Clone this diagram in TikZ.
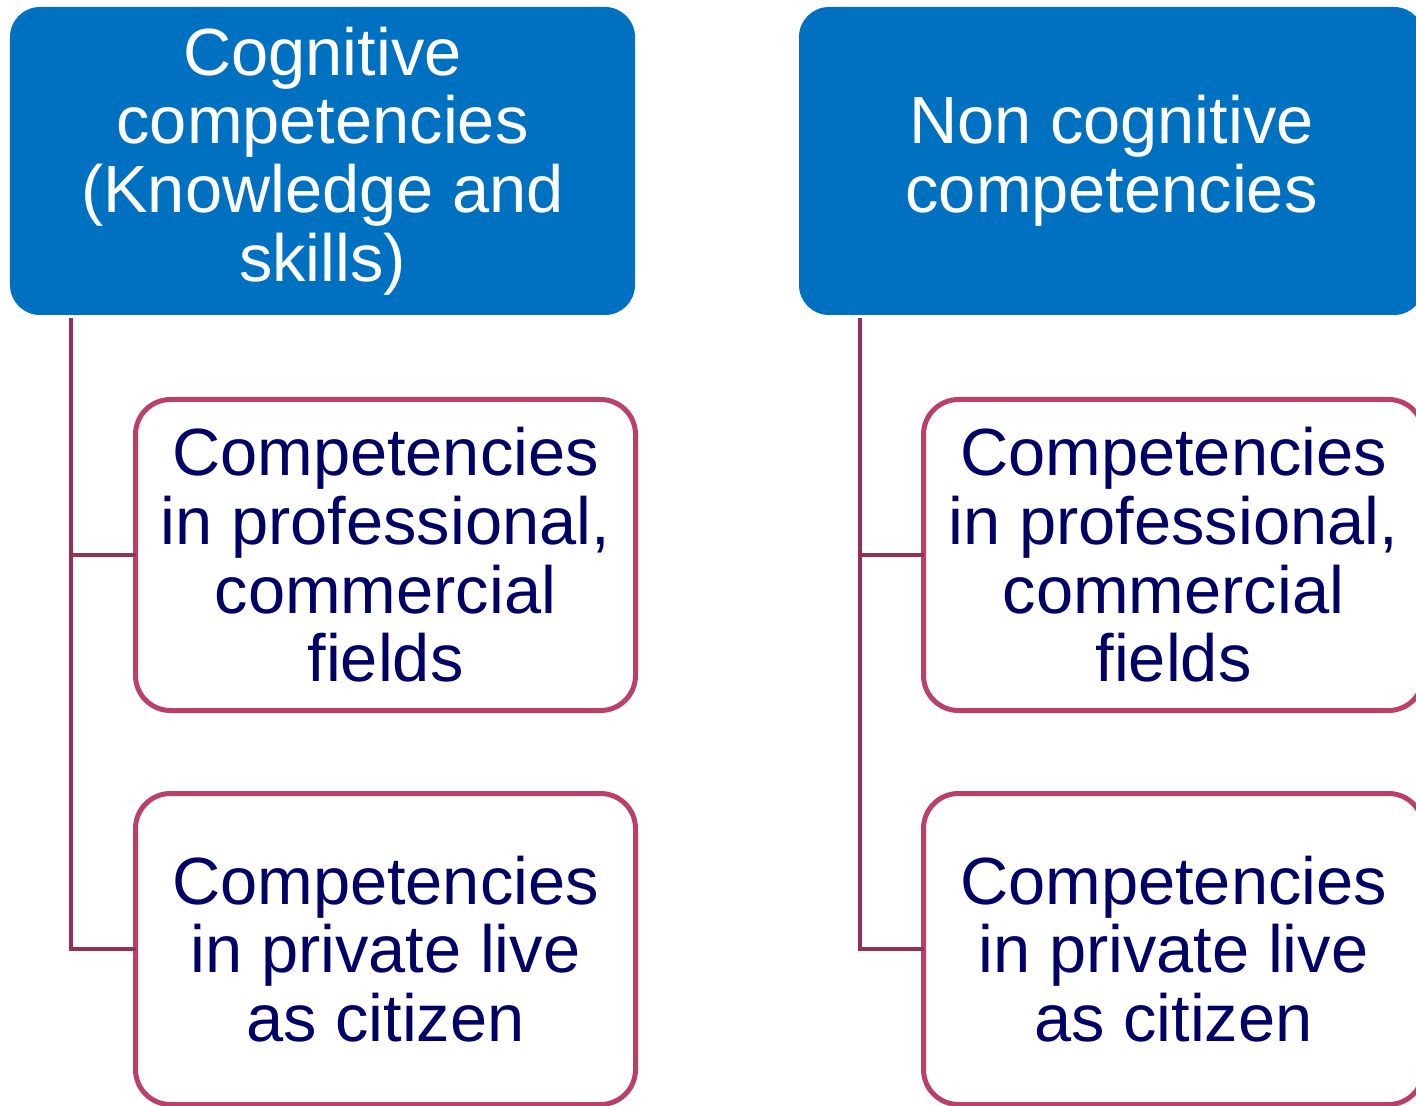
\documentclass[tikz,border=0pt]{standalone}
\usepackage{fontspec}
\setmainfont{Liberation Sans}
\usepackage{tikz}

\definecolor{headblue}{RGB}{0,112,192}
\definecolor{boxpink}{RGB}{186,64,104}
\definecolor{linkred}{RGB}{150,47,87}
\definecolor{textnavy}{RGB}{0,0,102}

\tikzset{
  head/.style={fill=headblue,rounded corners=0.6cm,minimum width=12.5cm,minimum height=6.16cm,
    outer sep=0pt,inner sep=0pt,align=center,text=white,font=\fontsize{38}{39.1}\selectfont},
  leaf/.style={draw=boxpink,fill=white,line width=0.1cm,rounded corners=0.7cm,minimum width=10cm,minimum height=6.22cm,
    outer sep=0pt,inner sep=0pt,align=center,text=textnavy,font=\fontsize{38}{39.1}\selectfont},
  link/.style={draw=linkred,line width=0.08cm}
}

\begin{document}
\begin{tikzpicture}
\useasboundingbox (0,0) rectangle (28.32,22.1);

\node[head] (cog) at (6.45,18.88) {Cognitive\\competencies\\(Knowledge and\\skills)};
\node[head] (noncog) at (22.23,18.88) {Non cognitive\\competencies};

\node[leaf] (cogprof) at (7.71,11.0) {Competencies\\in professional,\\commercial\\fields};
\node[leaf] (cogpriv) at (7.71,3.12) {Competencies\\in private live\\as citizen};

\node[leaf] (noncogprof) at (23.47,11.0) {Competencies\\in professional,\\commercial\\fields};
\node[leaf] (noncogpriv) at (23.47,3.12) {Competencies\\in private live\\as citizen};

\draw[link] ([xshift=1.22cm,yshift=-0.06cm]cog.south west) |- (cogprof.west);
\draw[link] ([xshift=1.22cm,yshift=-0.06cm]cog.south west) |- (cogpriv.west);
\draw[link] ([xshift=1.22cm,yshift=-0.06cm]noncog.south west) |- (noncogprof.west);
\draw[link] ([xshift=1.22cm,yshift=-0.06cm]noncog.south west) |- (noncogpriv.west);
\end{tikzpicture}
\end{document}
